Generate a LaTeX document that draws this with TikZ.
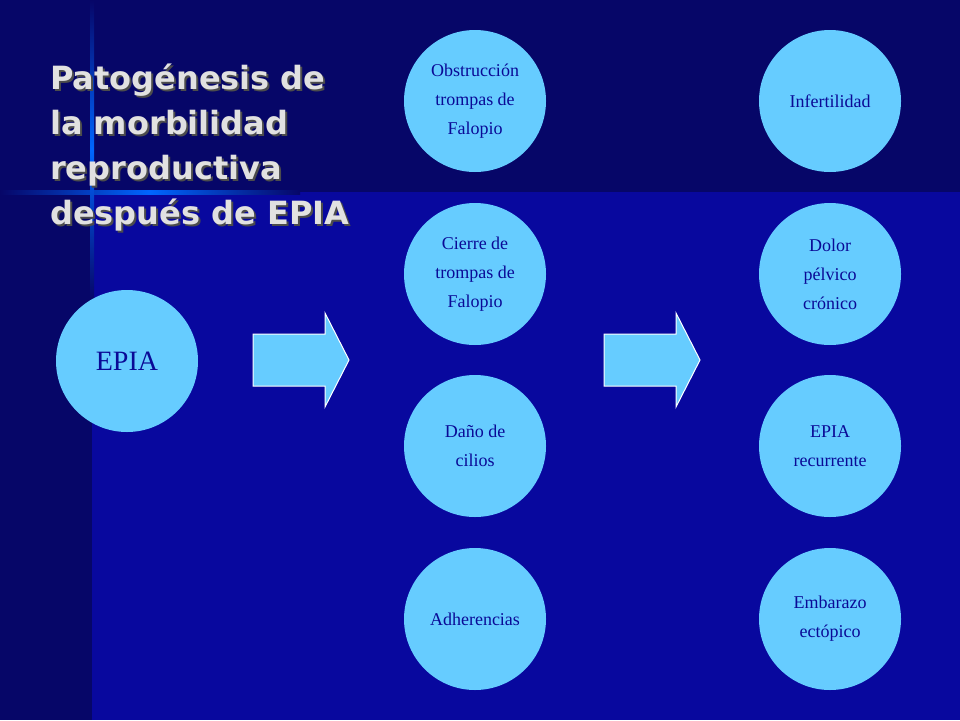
\documentclass[tikz,border=0pt]{standalone}
\usepackage{fontspec}
\setmainfont{Liberation Serif}
\newfontfamily\titlefont{DejaVu Sans}
\definecolor{bgmain}{RGB}{8,8,158}
\definecolor{bgdark}{RGB}{6,6,104}
\definecolor{circ}{RGB}{102,204,255}
\definecolor{txt}{RGB}{10,10,150}
\definecolor{ttl}{RGB}{225,225,225}
\begin{document}
\begin{tikzpicture}[x=1pt,y=-1pt,
  bub/.style={circle,fill=circ,minimum size=142pt,inner sep=0pt,align=center,text=txt,font=\fontsize{18}{29}\selectfont},
  bigarrow/.style={draw=white,fill=circ,line width=1pt}]
\fill[bgmain] (0,0) rectangle (960,720);
\fill[bgdark] (0,0) rectangle (960,192);
\fill[bgdark] (0,192) rectangle (92,720);
\shade[left color=bgdark,right color=bgdark,middle color=blue!60!cyan] (0,190) rectangle (300,194);
\shade[top color=bgdark,bottom color=bgdark,middle color=blue!60!cyan] (90,0) rectangle (94,300);
\node[anchor=north west,align=left,font=\titlefont\bfseries\fontsize{32}{45}\selectfont,text=black!70,inner sep=0pt] at (52,66) {Patogénesis de\\la morbilidad\\reproductiva\\después de EPIA};
\node[anchor=north west,align=left,font=\titlefont\bfseries\fontsize{32}{45}\selectfont,text=ttl,inner sep=0pt] (title) at (50,64) {Patogénesis de\\la morbilidad\\reproductiva\\después de EPIA};
\node[bub,font=\fontsize{28}{30}\selectfont] (epia) at (127,361) {EPIA};
\node[bub] (a1) at (475,101) {Obstrucción\\trompas de\\Falopio};
\node[bub] (a2) at (475,274) {Cierre de\\trompas de\\Falopio};
\node[bub] (a3) at (475,446) {Daño de\\cilios};
\node[bub] (a4) at (475,619) {Adherencias};
\node[bub] (b1) at (830,101) {Infertilidad};
\node[bub] (b2) at (830,274) {Dolor\\pélvico\\crónico};
\node[bub] (b3) at (830,446) {EPIA\\recurrente};
\node[bub] (b4) at (830,619) {Embarazo\\ectópico};
\foreach \x in {253,604}
  \path[bigarrow] (\x,334) -- ++(72,0) -- ++(0,-21) -- ++(24,47) -- ++(-24,47) -- ++(0,-21) -- ++(-72,0) -- cycle;
\end{tikzpicture}
\end{document}
